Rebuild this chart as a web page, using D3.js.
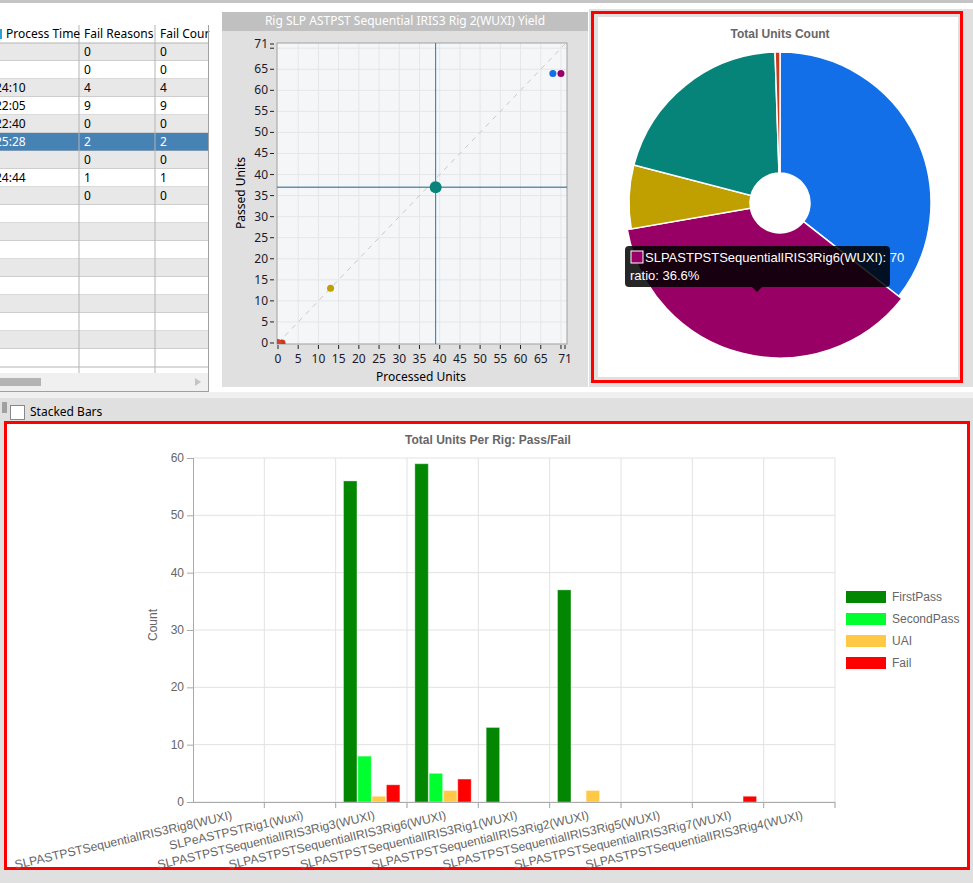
<!DOCTYPE html>
<html>
<head>
<meta charset="utf-8">
<script src="https://cdn.jsdelivr.net/npm/d3@7"></script>
<style>
  body { margin: 0; background: #fff; }
  svg { display: block; }
</style>
</head>
<body>
<script>
// rigs and per-rig counts (bar chart)
const rigs = [
  "SLPASTPSTSequentialIRIS3Rig8(WUXI)",
  "SLPeASTPSTRig1(Wuxi)",
  "SLPASTPSTSequentialIRIS3Rig3(WUXI)",
  "SLPASTPSTSequentialIRIS3Rig6(WUXI)",
  "SLPASTPSTSequentialIRIS3Rig1(WUXI)",
  "SLPASTPSTSequentialIRIS3Rig2(WUXI)",
  "SLPASTPSTSequentialIRIS3Rig5(WUXI)",
  "SLPASTPSTSequentialIRIS3Rig7(WUXI)",
  "SLPASTPSTSequentialIRIS3Rig4(WUXI)"
];
const firstPass  = [0, 0, 56, 59, 13, 37, 0, 0, 0];
const secondPass = [0, 0, 8, 5, 0, 0, 0, 0, 0];
const uai        = [0, 0, 1, 2, 0, 2, 0, 0, 0];
const fail       = [0, 0, 3, 4, 0, 0, 0, 1, 0];
const seriesNames = ["FirstPass", "SecondPass", "UAI", "Fail"];
const seriesColors = ["#038703", "#00ff2e", "#ffc845", "#ff0000"];
const rigColors = ["#d8452c", "#e0562a", "#136fe8", "#990066", "#c0a000", "#07847a", "#d03a2a", "#cc3a1e", "#d84030"];

// table on the left
const processTime = ["", "", "24:10", "22:05", "22:40", "25:28", "", "24:44", ""];
const failReasons = ["0", "0", "4", "9", "0", "2", "0", "1", "0"];
const failCount   = ["0", "0", "4", "9", "0", "2", "0", "1", "0"];
const selectedRow = 5;
const selectedRig = 5;   // Rig2, the crosshair in the yield plot
const hoveredRig = 3;    // Rig6, tooltip in the pie

// yield plot ticks
const yieldGrid = [0, 5, 10, 15, 20, 25, 30, 35, 40, 45, 50, 55, 60, 65, 70];
const yieldLabels = [0, 5, 10, 15, 20, 25, 30, 35, 40, 45, 50, 55, 60, 65, 71];

const W = 973, H = 883;
const svg = d3.select("body").append("svg").attr("width", W).attr("height", H);
const ui = "'Noto Sans', 'Segoe UI', sans-serif";
const chartFont = "'Liberation Sans', Arial, sans-serif";

// backgrounds
svg.append("rect").attr("x", 0).attr("y", 0).attr("width", W).attr("height", H).attr("fill", "#fff");
svg.append("rect").attr("x", 0).attr("y", 0).attr("width", W).attr("height", 3).attr("fill", "#c4c4c4");
svg.append("rect").attr("x", 0).attr("y", 392).attr("width", W).attr("height", 6).attr("fill", "#f0f0f0");
svg.append("rect").attr("x", 0).attr("y", 398).attr("width", W).attr("height", H - 398).attr("fill", "#e0e0e0");

// ---------- table ----------
let tab = svg.append("g");
let colX = [-60, 79, 155];
let rowH = 18, headY = 25;
let nRows = 18;
for (let i = 0; i < nRows; i++) {
  let y = headY + rowH + i * rowH;
  let fill = i == selectedRow ? "#4682b4" : (i % 2 == 0 ? "#e8e8e8" : "#fff");
  tab.append("rect").attr("x", 0).attr("y", y).attr("width", 208).attr("height", rowH).attr("fill", fill);
  tab.append("line").attr("x1", 0).attr("x2", 208).attr("y1", y + rowH).attr("y2", y + rowH).attr("stroke", "#b4b4b4");
}
tab.append("rect").attr("x", 0).attr("y", headY).attr("width", 208).attr("height", rowH).attr("fill", "#fff");
tab.append("line").attr("x1", 0).attr("x2", 208).attr("y1", headY + rowH).attr("y2", headY + rowH).attr("stroke", "#b4b4b4");
[79, 155].forEach(x => {
  tab.append("line").attr("x1", x).attr("x2", x).attr("y1", headY).attr("y2", 373).attr("stroke", "#b4b4b4");
});
let heads = ["Process Time", "Fail Reasons", "Fail Cour"];
tab.selectAll(".hd").data(heads).enter().append("text")
  .attr("x", (d, i) => i == 0 ? 6 : colX[i] + 5).attr("y", headY + 13)
  .attr("font-family", ui).attr("font-size", 12).attr("fill", "#000").text(d => d);
tab.append("rect").attr("x", 0).attr("y", headY + 4).attr("width", 2).attr("height", 10).attr("fill", "#2aa0d8");
let cols = [processTime, failReasons, failCount];
cols.forEach((c, ci) => {
  tab.selectAll(".c" + ci).data(c).enter().append("text")
    .attr("x", ci == 0 ? -5 : colX[ci] + 5)
    .attr("y", (d, i) => headY + rowH + i * rowH + 13)
    .attr("font-family", ui).attr("font-size", 12)
    .attr("fill", (d, i) => i == selectedRow ? "#fff" : "#000")
    .text(d => d);
});
// scrollbar
tab.append("rect").attr("x", 0).attr("y", 373).attr("width", 208).attr("height", 18).attr("fill", "#f0f0f0");
tab.append("rect").attr("x", 0).attr("y", 378).attr("width", 41).attr("height", 8).attr("fill", "#b4b4b4");
tab.append("path").attr("d", "M195,378 L201,382 L195,386 Z").attr("fill", "#c4c4c4");
tab.append("line").attr("x1", 208.5).attr("x2", 208.5).attr("y1", headY).attr("y2", 392).attr("stroke", "#a0a0a0");
tab.append("line").attr("x1", 0).attr("x2", 208).attr("y1", 391.5).attr("y2", 391.5).attr("stroke", "#a0a0a0");

// ---------- yield scatter ----------
let processed = rigs.map((r, i) => firstPass[i] + secondPass[i] + uai[i] + fail[i]);
let passed = rigs.map((r, i) => firstPass[i] + secondPass[i]);

let sc = svg.append("g");
sc.append("rect").attr("x", 222).attr("y", 12).attr("width", 366).attr("height", 375).attr("fill", "#e0e0e0");
sc.append("rect").attr("x", 222).attr("y", 12).attr("width", 366).attr("height", 19).attr("fill", "#c0c0c0");
sc.append("text").attr("x", 405).attr("y", 25).attr("text-anchor", "middle")
  .attr("font-family", ui).attr("font-size", 12).attr("fill", "#fff")
  .text("Rig SLP ASTPST Sequential IRIS3 Rig 2(WUXI) Yield");

let sx = d3.scaleLinear().domain([0, 71]).range([278, 565]);
let sy = d3.scaleLinear().domain([0, 71]).range([343, 44]);
let tickT = yieldGrid.concat([71]);
sc.append("rect").attr("x", 277).attr("y", 43).attr("width", 290).attr("height", 301)
  .attr("fill", "#f4f6f8");
sc.selectAll(".gx").data(yieldGrid.slice(1)).enter().append("line")
  .attr("x1", d => sx(d)).attr("x2", d => sx(d)).attr("y1", 43).attr("y2", 344)
  .attr("stroke", "#e4e6e8");
sc.selectAll(".gy").data(yieldGrid.slice(1)).enter().append("line")
  .attr("y1", d => sy(d)).attr("y2", d => sy(d)).attr("x1", 277).attr("x2", 567)
  .attr("stroke", "#e4e6e8");
sc.append("rect").attr("x", 277).attr("y", 43).attr("width", 290).attr("height", 301)
  .attr("fill", "none").attr("stroke", "#a0a0a0");
// ticks
sc.selectAll(".tx").data(tickT).enter().append("line")
  .attr("x1", d => sx(d)).attr("x2", d => sx(d)).attr("y1", 345).attr("y2", 349).attr("stroke", "#222");
sc.selectAll(".ty").data(tickT).enter().append("line")
  .attr("y1", d => sy(d)).attr("y2", d => sy(d)).attr("x1", 270).attr("x2", 274).attr("stroke", "#222");
sc.selectAll(".lx").data(yieldLabels).enter().append("text")
  .attr("x", d => sx(d)).attr("y", 363).attr("text-anchor", "middle")
  .attr("font-family", ui).attr("font-size", 12).attr("fill", "#1a1a2a").text(d => d);
sc.selectAll(".ly").data(yieldLabels).enter().append("text")
  .attr("x", 268).attr("y", d => sy(d) + 4).attr("text-anchor", "end")
  .attr("font-family", ui).attr("font-size", 12).attr("fill", "#1a1a2a").text(d => d);
sc.append("text").attr("x", 421).attr("y", 381).attr("text-anchor", "middle")
  .attr("font-family", ui).attr("font-size", 12).attr("fill", "#000").text("Processed Units");
sc.append("text").attr("transform", "translate(245,193) rotate(-90)").attr("text-anchor", "middle")
  .attr("font-family", ui).attr("font-size", 12).attr("fill", "#000").text("Passed Units");
// diagonal
sc.append("line").attr("x1", sx(0)).attr("y1", sy(0)).attr("x2", sx(71)).attr("y2", sy(71))
  .attr("stroke", "#c8c8c8").attr("stroke-dasharray", "5,5");
// crosshair
sc.append("line").attr("x1", sx(processed[selectedRig])).attr("x2", sx(processed[selectedRig]))
  .attr("y1", 43).attr("y2", 344).attr("stroke", "#1478d0").attr("stroke-width", 1);
sc.append("line").attr("y1", sy(passed[selectedRig])).attr("y2", sy(passed[selectedRig]))
  .attr("x1", 277).attr("x2", 567).attr("stroke", "#1d5f86").attr("stroke-width", 1);
let pts = rigs.map((r, i) => ({ i: i, x: processed[i], y: passed[i] }));
sc.append("clipPath").attr("id", "scClip").append("rect")
  .attr("x", 277).attr("y", 43).attr("width", 290).attr("height", 301);
sc.append("g").attr("clip-path", "url(#scClip)")
  .selectAll("circle").data(pts).enter().append("circle")
  .attr("cx", d => sx(d.x)).attr("cy", d => sy(d.y))
  .attr("r", d => d.i == selectedRig ? 6 : 3.5)
  .attr("fill", d => rigColors[d.i]);

// ---------- pie ----------
let pg = svg.append("g");
pg.append("rect").attr("x", 589).attr("y", 9).attr("width", 384).attr("height", 378).attr("fill", "#e0e0e0");
pg.append("rect").attr("x", 598).attr("y", 17).attr("width", 360).attr("height", 360).attr("fill", "#fff");
pg.append("rect").attr("x", 592.5).attr("y", 12.5).attr("width", 369).attr("height", 369)
  .attr("fill", "none").attr("stroke", "#ff0000").attr("stroke-width", 3);
pg.append("text").attr("x", 780).attr("y", 38).attr("text-anchor", "middle")
  .attr("font-family", chartFont).attr("font-size", 12).attr("font-weight", "bold").attr("fill", "#666")
  .text("Total Units Count");

let total = d3.sum(processed);
let pie = d3.pie().sort(null).value(d => d)(processed);
let arc = d3.arc().innerRadius(30).outerRadius(151);
let arcHover = d3.arc().innerRadius(30).outerRadius(155);
let pc = pg.append("g").attr("transform", "translate(780,203)");
pc.selectAll("path").data(pie.filter(d => d.value > 0)).enter().append("path")
  .attr("d", d => d.index == hoveredRig ? arcHover(d) : arc(d))
  .attr("fill", d => rigColors[d.index])
  .attr("stroke", "#fff").attr("stroke-width", 1.5);

// tooltip
let tip = pg.append("g");
tip.append("rect").attr("x", 625).attr("y", 246).attr("width", 265).attr("height", 41).attr("rx", 4)
  .attr("fill", "rgba(0,0,0,0.85)");
tip.append("path").attr("d", "M752,287 L757,292 L762,287 Z").attr("fill", "rgba(0,0,0,0.85)");
tip.append("rect").attr("x", 631).attr("y", 251).attr("width", 12).attr("height", 12)
  .attr("fill", rigColors[hoveredRig]).attr("stroke", "#fff").attr("stroke-width", 1);
tip.append("text").attr("x", 645).attr("y", 262).attr("font-family", chartFont).attr("font-size", 13)
  .attr("fill", "#fff").text(rigs[hoveredRig] + ": " + processed[hoveredRig]);
tip.append("text").attr("x", 630).attr("y", 280).attr("font-family", chartFont).attr("font-size", 13)
  .attr("fill", "#fff").text("ratio: " + d3.format(".1f")(processed[hoveredRig] / total * 100) + "%");

// ---------- bottom: bars ----------
let bg = svg.append("g");
bg.append("rect").attr("x", 2).attr("y", 402).attr("width", 5).attr("height", 11).attr("fill", "#a0a0a0");
bg.append("rect").attr("x", 10.5).attr("y", 405.5).attr("width", 14).attr("height", 14)
  .attr("fill", "#fff").attr("stroke", "#888");
bg.append("text").attr("x", 30).attr("y", 416).attr("font-family", ui).attr("font-size", 12)
  .attr("fill", "#000").text("Stacked Bars");
bg.append("rect").attr("x", 7).attr("y", 424).attr("width", 961).attr("height", 444).attr("fill", "#fff");
bg.append("rect").attr("x", 5.5).attr("y", 422.5).attr("width", 963).attr("height", 446)
  .attr("fill", "none").attr("stroke", "#ff0000").attr("stroke-width", 3);
bg.append("text").attr("x", 488).attr("y", 444).attr("text-anchor", "middle")
  .attr("font-family", chartFont).attr("font-size", 12).attr("font-weight", "bold").attr("fill", "#666")
  .text("Total Units Per Rig: Pass/Fail");

let bx = d3.scaleBand().domain(rigs).range([193, 835]);
let by = d3.scaleLinear().domain([0, 60]).range([802, 458]);
let bw = bx.bandwidth();
let sub = d3.scaleBand().domain(seriesNames).range([bw * 0.11, bw * 0.9]).paddingInner(0.06);
let seriesVals = [firstPass, secondPass, uai, fail];

// grid
bg.selectAll(".hg").data(by.ticks(6)).enter().append("line")
  .attr("x1", 193).attr("x2", 835).attr("y1", d => by(d)).attr("y2", d => by(d))
  .attr("stroke", "#e2e2e2");
bg.selectAll(".vg").data(rigs).enter().append("line")
  .attr("x1", d => bx(d) + bw).attr("x2", d => bx(d) + bw).attr("y1", 458).attr("y2", 808)
  .attr("stroke", "#e2e2e2");
bg.selectAll(".vt").data(rigs).enter().append("line")
  .attr("x1", d => bx(d) + bw).attr("x2", d => bx(d) + bw).attr("y1", 802).attr("y2", 808)
  .attr("stroke", "#aaa");

// bars
seriesVals.forEach((vals, si) => {
  bg.append("g").selectAll("rect").data(vals).enter().append("rect")
    .attr("x", (d, i) => bx(rigs[i]) + sub(seriesNames[si]))
    .attr("y", d => by(d))
    .attr("width", sub.bandwidth())
    .attr("height", d => by(0) - by(d))
    .attr("fill", seriesColors[si])
    .attr("stroke", "rgba(255,255,255,0.35)").attr("stroke-width", 1);
});

// axes
bg.append("line").attr("x1", 193.5).attr("x2", 193.5).attr("y1", 458).attr("y2", 802).attr("stroke", "#aaa");
bg.append("line").attr("x1", 187).attr("x2", 835).attr("y1", 802.5).attr("y2", 802.5).attr("stroke", "#aaa");
bg.selectAll(".yt").data(by.ticks(6)).enter().append("line")
  .attr("x1", 187).attr("x2", 193).attr("y1", d => by(d) + 0.5).attr("y2", d => by(d) + 0.5).attr("stroke", "#aaa");
bg.selectAll(".yl").data(by.ticks(6)).enter().append("text")
  .attr("x", 184).attr("y", d => by(d) + 4).attr("text-anchor", "end")
  .attr("font-family", chartFont).attr("font-size", 12).attr("fill", "#666").text(d => d);
bg.append("text").attr("transform", "translate(157,625) rotate(-90)").attr("text-anchor", "middle")
  .attr("font-family", chartFont).attr("font-size", 12).attr("fill", "#666").text("Count");
bg.selectAll(".xl").data(rigs).enter().append("text")
  .attr("transform", d => "translate(" + (bx(d) + bw / 2 + 2) + ",810) rotate(-13)")
  .attr("dy", "0.75em").attr("text-anchor", "end")
  .attr("font-family", chartFont).attr("font-size", 12.2).attr("fill", "#666").text(d => d);

// legend
let lg = bg.append("g").attr("transform", "translate(846,591)");
seriesNames.forEach((s, i) => {
  lg.append("rect").attr("x", 0).attr("y", i * 22).attr("width", 40).attr("height", 12).attr("fill", seriesColors[i]);
  lg.append("text").attr("x", 46).attr("y", i * 22 + 10).attr("font-family", chartFont)
    .attr("font-size", 12).attr("fill", "#666").text(s);
});
</script>
</body>
</html>
